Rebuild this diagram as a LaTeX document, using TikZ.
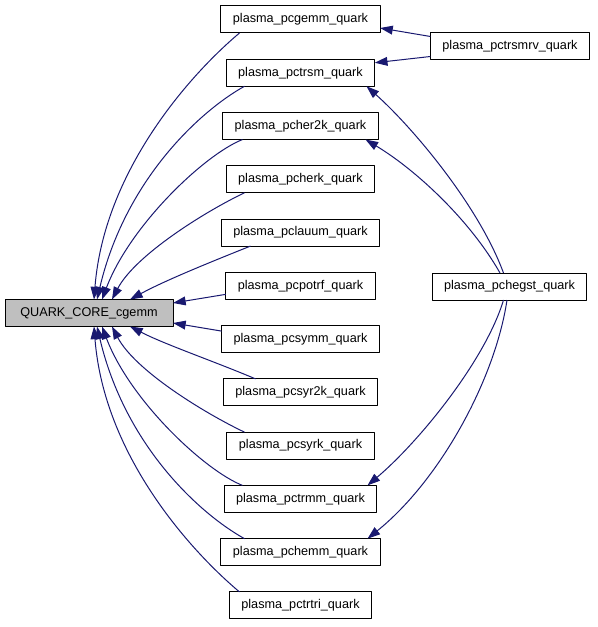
\documentclass[tikz,border=0pt]{standalone}
\usepackage{fontspec}
\setmainfont{Liberation Sans}
\usepackage{xcolor}
\usepackage{tikz}
\usetikzlibrary{arrows.meta,positioning,calc}
\definecolor{edgeblue}{HTML}{191970}
\definecolor{rootgrey}{HTML}{BFBFBF}
\tikzset{
    every picture/.style={line join=round},
    fnbox/.style={draw=black,fill=white,line width=0.75pt,
      minimum height=20.25pt,inner xsep=9pt,inner ysep=2pt,outer sep=0pt},
    rootbox/.style={fnbox,fill=rootgrey,minimum width=126pt},
    callarrow/.style={-{Triangle[length=9.5pt,width=6.6pt]},draw=edgeblue,
      line width=0.75pt}
}

\begin{document}
\begin{tikzpicture}[x=0.75pt,y=-0.75pt,font=\fontsize{9.5}{11}\selectfont]
  \useasboundingbox (0,0) rectangle (597,627);
  % caller column
  \node[rootbox] (root) at (89,313) {QUARK\_CORE\_cgemm};
  \node[fnbox] (pcgemm) at (300.5,19.5) {plasma\_pcgemm\_quark};
  \node[fnbox,below=19.7pt of pcgemm] (pctrsm) {plasma\_pctrsm\_quark};
  \node[fnbox,below=19.7pt of pctrsm] (pcher2k) {plasma\_pcher2k\_quark};
  \node[fnbox,below=19.7pt of pcher2k] (pcherk) {plasma\_pcherk\_quark};
  \node[fnbox,below=19.7pt of pcherk] (pclauum) {plasma\_pclauum\_quark};
  \node[fnbox,below=19.7pt of pclauum] (pcpotrf) {plasma\_pcpotrf\_quark};
  \node[fnbox,below=19.7pt of pcpotrf] (pcsymm) {plasma\_pcsymm\_quark};
  \node[fnbox,below=19.7pt of pcsymm] (pcsyr2k) {plasma\_pcsyr2k\_quark};
  \node[fnbox,below=19.7pt of pcsyr2k] (pcsyrk) {plasma\_pcsyrk\_quark};
  \node[fnbox,below=19.7pt of pcsyrk] (pctrmm) {plasma\_pctrmm\_quark};
  \node[fnbox,below=19.7pt of pctrmm] (pchemm) {plasma\_pchemm\_quark};
  \node[fnbox,below=19.7pt of pchemm] (pctrtri) {plasma\_pctrtri\_quark};
  % second level callers
  \node[fnbox] (pctrsmrv) at (510,46.5) {plasma\_pctrsmrv\_quark};
  \node[fnbox] (pchegst) at (509.5,286.5) {plasma\_pchegst\_quark};

  % edges into the root, upper half
  \draw[callarrow] ($(pcgemm.south)+(-61,0)$) .. controls +(-50,42) and +(10,-128) .. ($(root.north)+(5,0)$);
  \draw[callarrow] ($(pctrsm.south)+(-56,0)$) .. controls +(-45,25) and +(28,-119) .. ($(root.north)+(8,0)$);
  \draw[callarrow] ($(pcher2k.south)+(-58,0)$) .. controls +(-38,15) and +(28,-74) .. ($(root.north)+(13,0)$);
  \draw[callarrow] ($(pcherk.south)+(-56,0)$) .. controls +(-40,19) and +(23,-44) .. ($(root.north)+(23,0)$);
  \draw[callarrow] ($(pclauum.south)+(-50,0)$) .. controls +(-40,16) and +(35,-19) .. ($(root.north)+(41,0)$);
  \draw[callarrow] ($(pcpotrf.south west)+(0,-5)$) -- ($(root.east)+(0,-10)$);
  \draw[callarrow] ($(pcsymm.north west)+(0,5.5)$) -- ($(root.east)+(0,10)$);
  % edges into the root, lower half
  \draw[callarrow] ($(pcsyr2k.north)+(-45,0)$) .. controls +(-40,-17) and +(35,18) .. ($(root.south)+(41,0)$);
  \draw[callarrow] ($(pcsyrk.north)+(-56,0)$) .. controls +(-40,-19) and +(23,44) .. ($(root.south)+(23,0)$);
  \draw[callarrow] ($(pctrmm.north)+(-58,0)$) .. controls +(-38,-15) and +(28,74) .. ($(root.south)+(13,0)$);
  \draw[callarrow] ($(pchemm.north)+(-56,0)$) .. controls +(-45,-25) and +(28,119) .. ($(root.south)+(8,0)$);
  \draw[callarrow] ($(pctrtri.north)+(-61,0)$) .. controls +(-50,-42) and +(10,128) .. ($(root.south)+(5,0)$);

  % right hand callers
  \draw[callarrow] ($(pctrsmrv.west)+(0,-10)$) -- ($(pcgemm.east)+(0,8.5)$);
  \draw[callarrow] ($(pctrsmrv.west)+(0,10)$) -- ($(pctrsm.east)+(0,-10)$);
  \draw[callarrow] ($(pchegst.north)+(-6,0)$) .. controls +(-25,-68) and +(45,40) .. ($(pctrsm.south)+(66,0)$);
  \draw[callarrow] ($(pchegst.north)+(-9.5,0)$) .. controls +(-30,-53) and +(50,30) .. ($(pcher2k.south)+(65,0)$);
  \draw[callarrow] ($(pchegst.south)+(-6,0)$) .. controls +(-18,60) and +(52,-44) .. ($(pctrmm.north)+(67,0)$);
  \draw[callarrow] ($(pchegst.south)+(-2.5,0)$) .. controls +(-12,80) and +(72,-58) .. ($(pchemm.north)+(67,0)$);
\end{tikzpicture}
\end{document}
